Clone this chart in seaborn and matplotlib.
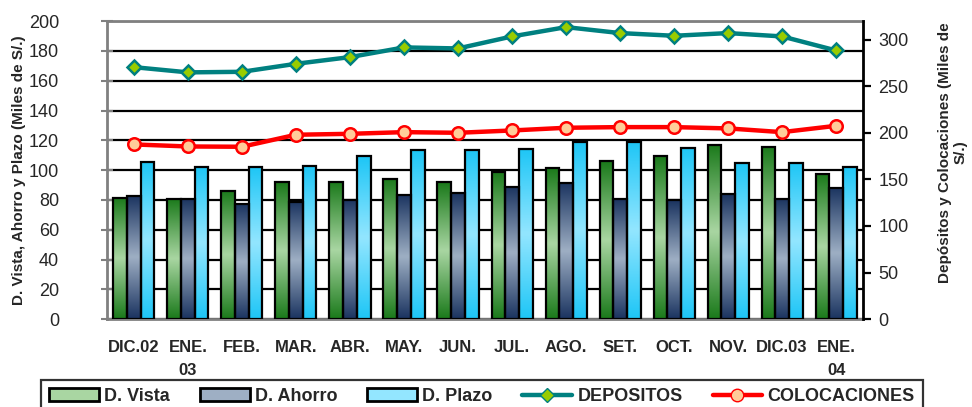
import numpy as np
import pandas as pd
import matplotlib
matplotlib.use("Agg")
import matplotlib.pyplot as plt
from matplotlib.colors import to_rgb
from matplotlib.patches import Patch
from matplotlib.lines import Line2D
import seaborn as sns

meses = ["DIC.02", "ENE.\n03", "FEB.", "MAR.", "ABR.", "MAY.", "JUN.", "JUL.",
         "AGO.", "SET.", "OCT.", "NOV.", "DIC.03", "ENE.\n04"]
d_vista = [81.5, 80.6, 86.2, 91.7, 92.2, 94.0, 91.7, 98.9, 101.1, 105.8, 109.4, 117.2, 115.6, 97.3]
d_ahorro = [82.6, 80.8, 77.2, 78.6, 79.9, 83.3, 84.4, 88.8, 91.5, 80.6, 79.7, 83.9, 80.6, 88.2]
d_plazo = [105.4, 102.2, 102.2, 103.1, 109.4, 113.4, 113.8, 114.3, 119.2, 119.2, 115.0, 105.1, 105.1, 102.2]
depositos = [270.6, 265.0, 265.6, 274.2, 281.4, 291.8, 290.7, 303.6, 313.6, 307.2, 304.3, 307.2, 303.6, 288.5]
colocaciones = [187.6, 185.4, 185.1, 198.0, 199.0, 200.8, 200.1, 202.6, 205.5, 206.2, 206.2, 204.8, 200.8, 207.6]

series = ["D. Vista", "D. Ahorro", "D. Plazo"]
# gradiente: borde oscuro, centro claro
grad = {
    "D. Vista": ("#1b7a1b", "#a9d6a2"),
    "D. Ahorro": ("#1b3460", "#9eafc4"),
    "D. Plazo": ("#1ec6f6", "#93e6ff"),
}

df = pd.DataFrame({
    "mes": meses * 3,
    "valor": d_vista + d_ahorro + d_plazo,
    "serie": np.repeat(series, len(meses)),
})

sns.set_style("white")
plt.rcParams["font.family"] = ["Liberation Sans", "DejaVu Sans"]

fig = plt.figure(figsize=(9.72, 4.07), dpi=100)
ax = fig.add_axes([0.110, 0.216, 0.778, 0.732])

sns.barplot(data=df, x="mes", y="valor", hue="serie", hue_order=series,
            order=meses, ax=ax, width=0.76, gap=0, legend=False,
            edgecolor="black", linewidth=1.6, saturation=1, errorbar=None)

# relleno en degradado para cada barra
for cont, s in zip(ax.containers, series):
    dark, light = [np.array(to_rgb(c)) for c in grad[s]]
    t = np.linspace(0, 1, 100)
    w = np.interp(t, [0, 0.5, 1], [0, 1, 0])
    img = (dark[None, :] * (1 - w[:, None]) + light[None, :] * w[:, None])[:, None, :]
    for p in cont.patches:
        x, y = p.get_x(), p.get_y()
        bw, bh = p.get_width(), p.get_height()
        im = ax.imshow(img, extent=[x, x + bw, y, y + bh], aspect="auto",
                       origin="upper", zorder=2, interpolation="bilinear")
        im.set_clip_path(p)
        p.set_facecolor("none")
        p.set_zorder(3)

ax.set_xlim(-0.5, len(meses) - 0.5)
ax.set_ylim(0, 200)
ax.set_yticks(range(0, 201, 20))
ax.yaxis.grid(True, color="black", lw=1.6)
ax.set_axisbelow(True)
ax.set_xlabel("")
ax.set_ylabel("D. Vista, Ahorro y Plazo (Miles de S/.)", fontsize=11,
              fontweight="bold", labelpad=2)
ax.tick_params(axis="y", labelsize=13, length=9, direction="inout",
               color="#808080", width=1.5, pad=30)
ax.set_xticks(range(len(meses)))
ax.set_xticklabels(meses, fontsize=12, fontweight="bold", linespacing=1.7,
                   va="top")
ax.set_xticks(np.arange(-0.5, len(meses), 1), minor=True)
ax.tick_params(axis="x", which="major", length=0, pad=15)
ax.tick_params(axis="x", which="minor", length=6, direction="out",
               color="#808080", width=1.5)
for s in ["left", "bottom", "top"]:
    ax.spines[s].set_color("#808080")
    ax.spines[s].set_linewidth(2)
ax.spines["right"].set_visible(False)

ax2 = ax.twinx()
sns.lineplot(x=meses, y=depositos, ax=ax2, sort=False, color="#008080", lw=3.2,
             marker="D", markersize=7, markerfacecolor="#99cc00",
             markeredgecolor="#008080", markeredgewidth=1.8)
sns.lineplot(x=meses, y=colocaciones, ax=ax2, sort=False, color="#ff0000", lw=3.2,
             marker="o", markersize=9, markerfacecolor="#ffcc99",
             markeredgecolor="#ff0000", markeredgewidth=1.8)
ax2.set_xlim(-0.5, len(meses) - 0.5)
ax2.set_ylim(0, 320)
ax2.set_yticks(range(0, 301, 50))
ax2.tick_params(axis="y", labelsize=13, length=6, direction="out",
                color="black", width=1.6, pad=5)
ax2.set_ylabel("Depósitos y Colocaciones (Miles de\nS/.)", fontsize=11,
               fontweight="bold", linespacing=1.15)
ax2.yaxis.set_label_coords(1.099, 0.56)
for s in ["left", "bottom", "top"]:
    ax2.spines[s].set_visible(False)
ax2.spines["right"].set_color("black")
ax2.spines["right"].set_linewidth(2)

handles = [
    Patch(facecolor=grad["D. Vista"][1], edgecolor="black", lw=2),
    Patch(facecolor=grad["D. Ahorro"][1], edgecolor="black", lw=2),
    Patch(facecolor=grad["D. Plazo"][1], edgecolor="black", lw=2),
    Line2D([], [], color="#008080", lw=3.2, marker="D", markersize=7,
           markerfacecolor="#99cc00", markeredgecolor="#008080"),
    Line2D([], [], color="#ff0000", lw=3.2, marker="o", markersize=9,
           markerfacecolor="#ffcc99", markeredgecolor="#ff0000"),
]
labels = ["D. Vista", "D. Ahorro", "D. Plazo", "DEPOSITOS", "COLOCACIONES"]
leg = fig.legend(handles, labels, loc="lower center", bbox_to_anchor=(0.496, -0.015),
                 ncol=5, frameon=True, fancybox=False, edgecolor="black",
                 prop={"weight": "bold", "size": 13}, handlelength=2.75,
                 handleheight=0.7, columnspacing=1.65, handletextpad=0.3,
                 borderpad=0.45, borderaxespad=0)
leg.get_frame().set_linewidth(1.6)

fig.savefig("out.png", dpi=100)
